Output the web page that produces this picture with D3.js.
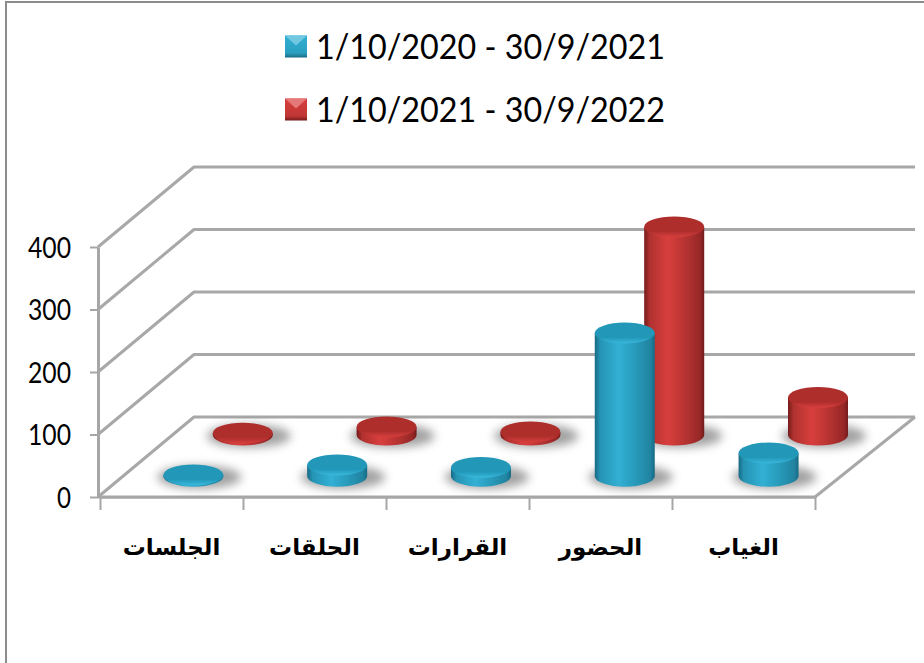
<!DOCTYPE html>
<html>
<head>
<meta charset="utf-8">
<script src="https://cdn.jsdelivr.net/npm/d3@7"></script>
<style>
  html, body { margin: 0; padding: 0; background: #fff; }
  svg { display: block; }
  .axis path, .axis line { stroke: #a6a6a6; stroke-width: 2; fill: none; }
  .axis.y path { stroke-width: 3; }
  .axis text { font-family: Lato, "Open Sans", sans-serif; font-size: 28px; fill: #000; }
  .grid { stroke: #a8a8a8; stroke-width: 3; fill: none; stroke-linejoin: round; }
  .cat { font-family: "DejaVu Sans", sans-serif; font-weight: bold; font-size: 23px; fill: #000; text-anchor: middle; }
  .legend { font-family: Lato, "Open Sans", sans-serif; font-size: 35px; fill: #000; }
</style>
</head>
<body>
<svg id="chart" width="924" height="663"></svg>
<script>
// ==== DATA ====
const categories = ["الجلسات", "الحلقات", "القرارات", "الحضور", "الغياب"];
const seriesNames = ["1/10/2020 - 30/9/2021", "1/10/2021 - 30/9/2022"];
const values2021 = [2, 18, 14, 229, 37];
const values2022 = [3, 13, 5, 333, 60];
const yTicks = [0, 100, 200, 300, 400];

// ==== LAYOUT ====
const svg = d3.select("#chart");
const FRONT_LEFT = 100, FRONT_RIGHT = 815, FLOOR_Y = 497, TOP_Y = 247;
const DEPTH_X = 96, DEPTH_Y = 80;
const R_X = 30, R_Y = 10.5;

const x = d3.scaleBand().domain(categories).range([FRONT_LEFT, FRONT_RIGHT]);
// cylinders step a little wider than the floor ticks in the original
const xBars = d3.scaleBand().domain(categories).range([FRONT_LEFT, FRONT_RIGHT + 4]);
const y = d3.scaleLinear().domain([0, 400]).range([FLOOR_Y, TOP_Y]);
const SERIES_DEPTH = [0.26, 0.775];
const BAR_SHIFT = -3.5;

const palettes = [
  { edge: "#176a84", mid: "#31b0d4", top: "#2197b8", topFront: "#3ab9dc" },
  { edge: "#741b1b", mid: "#d83f3d", top: "#ad2d2c", topFront: "#d83f3d" }
];

const defs = svg.append("defs");
palettes.forEach((p, i) => {
  const mix = d3.interpolateRgb(p.edge, p.mid);
  const body = defs.append("linearGradient").attr("id", `body-${i}`);
  body.append("stop").attr("offset", "0%").attr("stop-color", p.edge);
  body.append("stop").attr("offset", "9%").attr("stop-color", mix(0.6));
  body.append("stop").attr("offset", "40%").attr("stop-color", p.mid);
  body.append("stop").attr("offset", "70%").attr("stop-color", mix(0.65));
  body.append("stop").attr("offset", "93%").attr("stop-color", mix(0.35));
  body.append("stop").attr("offset", "100%").attr("stop-color", p.edge);

  const cap = defs.append("linearGradient").attr("id", `cap-${i}`)
    .attr("x1", 0).attr("y1", 0).attr("x2", 0).attr("y2", 1);
  cap.append("stop").attr("offset", "0%").attr("stop-color", p.top);
  cap.append("stop").attr("offset", "70%").attr("stop-color", p.top);
  cap.append("stop").attr("offset", "100%").attr("stop-color", p.topFront);

  const sw = defs.append("linearGradient").attr("id", `swatch-${i}`)
    .attr("x1", 0).attr("y1", 0).attr("x2", 0).attr("y2", 1);
  sw.append("stop").attr("offset", "0%").attr("stop-color", p.mid);
  sw.append("stop").attr("offset", "80%").attr("stop-color", mix(0.75));
  sw.append("stop").attr("offset", "100%").attr("stop-color", p.edge);
});
defs.append("filter").attr("id", "shadow-blur")
  .attr("x", "-30%").attr("y", "-60%").attr("width", "160%").attr("height", "220%")
  .append("feGaussianBlur").attr("stdDeviation", 5);
defs.append("filter").attr("id", "soft")
  .append("feGaussianBlur").attr("stdDeviation", 0.6);

// ==== FRAME ====
svg.append("path").attr("fill", "none").attr("stroke", "#8c8c8c").attr("stroke-width", 2)
  .attr("d", "M6,663V2H924");

// ==== LEGEND ====
seriesNames.forEach((name, i) => {
  const ly = 46.5 + i * 63;
  const s = 11;
  const g = svg.append("g").attr("transform", `translate(296,${ly})`).attr("filter", "url(#soft)");
  g.append("rect").attr("x", -s).attr("y", -s).attr("width", 2 * s).attr("height", 2 * s)
    .attr("fill", `url(#swatch-${i})`);
  g.append("polygon").attr("points", [[-s, -s], [s, -s], [0, -1]].join(" "))
    .attr("fill", d3.interpolateRgb(palettes[i].mid, "#fff")(0.3));
  svg.append("text").attr("class", "legend").attr("x", 316).attr("y", ly + 12)
    .attr("textLength", 349).attr("lengthAdjust", "spacingAndGlyphs").text(name);
});

// ==== WALLS AND FLOOR ====
const walls = svg.append("g");
yTicks.forEach(t => {
  walls.append("path").attr("class", "grid")
    .attr("d", d3.line()([
      [FRONT_LEFT - 2, y(t)],
      [FRONT_LEFT - 2 + DEPTH_X, y(t) - DEPTH_Y],
      [FRONT_RIGHT + 100, y(t) - DEPTH_Y]
    ]));
});
walls.append("path").attr("class", "grid")
  .attr("d", d3.line()([
    [FRONT_RIGHT + 100, FLOOR_Y - DEPTH_Y],
    [FRONT_RIGHT, FLOOR_Y],
    [FRONT_LEFT - 2, FLOOR_Y]
  ]));

// ==== AXES ====
const yAxis = d3.axisLeft(y).tickValues(yTicks).tickSize(8).tickPadding(19).tickSizeOuter(0);
const yAxisG = svg.append("g").attr("class", "axis y")
  .attr("transform", `translate(${FRONT_LEFT - 2},0)`)
  .call(yAxis);
yAxisG.selectAll("text")
  .attr("textLength", function(d) { return d === 0 ? 14 : 43; })
  .attr("lengthAdjust", "spacingAndGlyphs")
  .attr("dy", "0.36em");

const xEdges = d3.scaleLinear().domain([0, categories.length]).range([FRONT_LEFT, FRONT_RIGHT]);
const xAxis = d3.axisBottom(xEdges).tickValues(d3.range(categories.length + 1))
  .tickFormat("").tickSize(13).tickSizeOuter(0);
svg.append("g").attr("class", "axis")
  .attr("transform", `translate(0,${FLOOR_Y})`)
  .call(xAxis);

svg.append("g").selectAll("text").data(categories).join("text")
  .attr("class", "cat")
  .attr("direction", "rtl")
  .attr("x", d => x(d) + x.bandwidth() / 2)
  .attr("y", 555)
  .text(d => d);

// ==== CYLINDERS ====
function drawSeries(values, idx) {
  const d0 = SERIES_DEPTH[idx];
  const rows = categories.map((c, i) => {
    const cx = xBars(c) + xBars.bandwidth() / 2 + d0 * DEPTH_X + BAR_SHIFT;
    const base = y(0) - d0 * DEPTH_Y;
    const top = y(values[i]) - d0 * DEPTH_Y;
    return { cx, base, top };
  });

  const shadows = svg.append("g").attr("fill", "#555").attr("opacity", 0.55);
  shadows.selectAll("ellipse").data(rows).join("ellipse")
    .attr("cx", d => d.cx + 6).attr("cy", d => d.base + 1)
    .attr("rx", R_X + 12).attr("ry", R_Y + 1)
    .attr("filter", "url(#shadow-blur)");

  const bars = svg.append("g").attr("filter", "url(#soft)")
    .selectAll("g").data(rows).join("g");

  bars.append("path")
    .attr("fill", `url(#body-${idx})`)
    .attr("d", d => `M${d.cx - R_X},${d.top}V${d.base}A${R_X},${R_Y} 0 0 0 ${d.cx + R_X},${d.base}V${d.top}Z`);

  bars.append("ellipse")
    .attr("fill", `url(#cap-${idx})`)
    .attr("cx", d => d.cx).attr("cy", d => d.top)
    .attr("rx", R_X).attr("ry", R_Y);
}

drawSeries(values2022, 1);
drawSeries(values2021, 0);
</script>
</body>
</html>
